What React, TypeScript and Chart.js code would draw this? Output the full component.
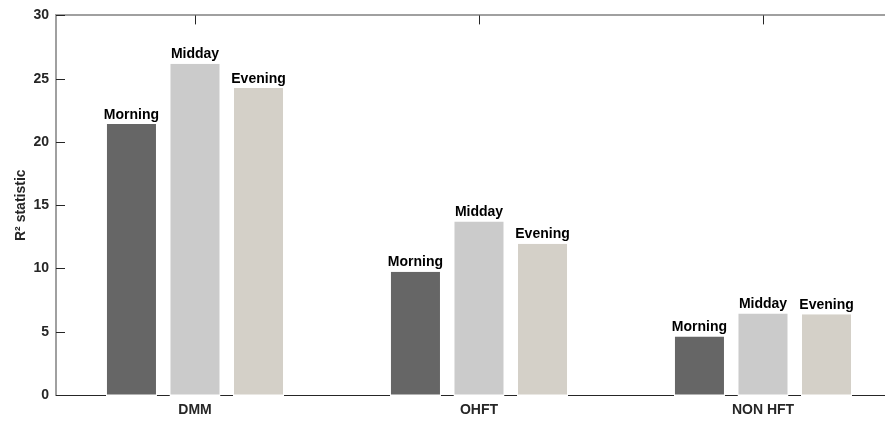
import React, { useEffect, useRef } from "react";
import { Chart, registerables } from "chart.js";

Chart.register(...registerables);

const categories = ["DMM", "OHFT", "NON HFT"];
const seriesNames = ["Morning", "Midday", "Evening"];
const morning = [21.42, 9.74, 4.63];
const midday = [26.18, 13.72, 6.44];
const evening = [24.27, 11.96, 6.39];
const yTicks = [0, 5, 10, 15, 20, 25, 30];

const seriesColors = ["#666666", "#cbcbcb", "#d4d0c8"];
const FONT = "'Liberation Sans', Arial, Helvetica, sans-serif";
const X_MIN = 0.5106;
const X_MAX = 3.4296;

const categoryTicks = (scale: any) => {
  scale.ticks = categories.map((_, i) => ({ value: i + 1 }));
};

const innerTicksPlugin = {
  id: "innerTicks",
  beforeDatasetsDraw(chart: any) {
    const { ctx, chartArea } = chart;
    const y = chart.scales.y;
    const xt = chart.scales.xTop;
    ctx.save();
    ctx.strokeStyle = "#262626";
    ctx.lineWidth = 1;
    y.ticks.forEach((t: any) => {
      const py = Math.round(y.getPixelForValue(t.value)) + 0.5;
      ctx.beginPath();
      ctx.moveTo(chartArea.left, py);
      ctx.lineTo(chartArea.left + 9, py);
      ctx.stroke();
    });
    xt.ticks.forEach((t: any) => {
      const px = Math.round(xt.getPixelForValue(t.value)) + 0.5;
      ctx.beginPath();
      ctx.moveTo(px, chartArea.top);
      ctx.lineTo(px, chartArea.top + 9);
      ctx.stroke();
    });
    ctx.restore();
  },
};

const barLabelPlugin = {
  id: "barLabels",
  afterDatasetsDraw(chart: any) {
    const { ctx } = chart;
    ctx.save();
    ctx.font = `bold 14px ${FONT}`;
    ctx.fillStyle = "#000000";
    ctx.textAlign = "center";
    ctx.textBaseline = "alphabetic";
    chart.data.datasets.forEach((ds: any, di: number) => {
      const meta = chart.getDatasetMeta(di);
      meta.data.forEach((el: any) => {
        ctx.fillText(ds.label, el.x, el.y - 5.3);
      });
    });
    ctx.restore();
  },
};

export default function App() {
  const canvasRef = useRef<HTMLCanvasElement | null>(null);

  useEffect(() => {
    if (!canvasRef.current) return;
    Chart.defaults.font.family = FONT;
    const values = [morning, midday, evening];
    const chart = new Chart(canvasRef.current, {
      type: "bar",
      data: {
        datasets: seriesNames.map((name, si) => ({
          label: name,
          data: values[si].map((v, i) => ({ x: i + 1, y: v })),
          backgroundColor: seriesColors[si],
          borderColor: "#ffffff",
          borderWidth: { top: 0, left: 1, right: 1, bottom: 2 },
          borderSkipped: false,
          base: -0.12,
          clip: false,
          categoryPercentage: 0.671,
          barPercentage: 0.803,
        })),
      },
      options: {
        animation: false,
        responsive: false,
        maintainAspectRatio: false,
        layout: { padding: { top: 13, left: 0, right: 0, bottom: 0 } },
        plugins: {
          legend: { display: false },
          tooltip: { enabled: false },
        },
        scales: {
          x: {
            type: "linear",
            position: "bottom",
            offset: false,
            min: X_MIN,
            max: X_MAX,
            afterBuildTicks: categoryTicks,
            afterFit: (s: any) => {
              s.height = 26;
            },
            grid: { display: false, drawTicks: false, offset: false },
            border: { display: true, color: "#262626", width: 1 },
            ticks: {
              autoSkip: false,
              maxRotation: 0,
              padding: 6.6,
              color: "#262626",
              font: { family: FONT, size: 14, weight: "bold" },
              callback: (v: any) => categories[Number(v) - 1] ?? "",
            },
          },
          xTop: {
            type: "linear",
            position: "top",
            offset: false,
            min: X_MIN,
            max: X_MAX,
            afterBuildTicks: categoryTicks,
            afterFit: (s: any) => {
              s.height = 0;
            },
            grid: { display: false, drawTicks: false, offset: false },
            border: { display: true, color: "#a0a0a0", width: 2 },
            ticks: { display: false },
          },
          y: {
            type: "linear",
            position: "left",
            min: 0,
            max: 30,
            afterBuildTicks: (s: any) => {
              s.ticks = yTicks.map((v) => ({ value: v }));
            },
            afterFit: (s: any) => {
              s.width = 56;
            },
            grid: { display: false, drawTicks: false },
            border: { display: true, color: "#a0a0a0", width: 2 },
            ticks: {
              padding: 7,
              color: "#262626",
              font: { family: FONT, size: 14, weight: "bold" },
            },
            title: {
              display: true,
              text: "R² statistic",
              color: "#262626",
              font: { family: FONT, size: 14, weight: "bold" },
              padding: { top: 13, bottom: 0 },
            },
          },
        },
      },
      plugins: [innerTicksPlugin, barLabelPlugin],
    });
    return () => chart.destroy();
  }, []);

  return (
    <div
      style={{
        position: "fixed",
        left: 0,
        top: 0,
        width: 885,
        height: 421,
        overflow: "hidden",
        background: "#ffffff",
      }}
    >
      <canvas ref={canvasRef} width={885} height={421} style={{ display: "block" }} />
    </div>
  );
}
